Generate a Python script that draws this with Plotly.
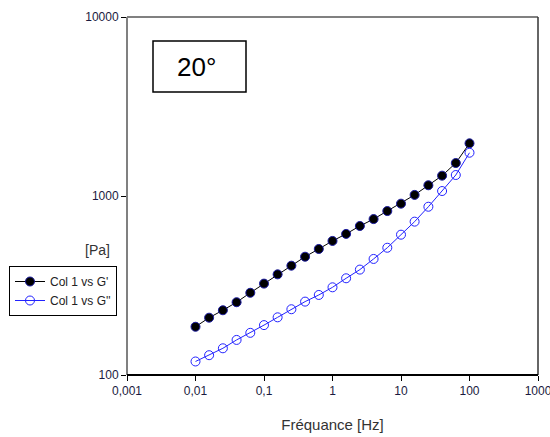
import plotly.graph_objects as go

freq = [0.01, 0.0158, 0.0251, 0.0398, 0.0631, 0.1, 0.158, 0.251, 0.398, 0.631,
        1, 1.58, 2.51, 3.98, 6.31, 10, 15.8, 25.1, 39.8, 63.1, 100]
g_prime = [186, 209, 230, 255, 288, 324, 365, 408, 458, 506,
           561, 614, 680, 743, 824, 906, 1014, 1148, 1299, 1528, 1969]
g_second = [119, 129, 141, 157, 172, 190, 210, 233, 257, 280,
            309, 347, 388, 445, 514, 608, 719, 871, 1066, 1310, 1745]

x_tickvals = [0.001, 0.01, 0.1, 1, 10, 100, 1000]
x_ticktext = ["0,001", "0,01", "0,1", "1", "10", "100", "1000"]
y_tickvals = [100, 1000, 10000]
y_ticktext = ["100", "1000", "10000"]

fig = go.Figure()
fig.add_trace(go.Scatter(
    x=freq, y=g_prime, mode="lines+markers", name="Col 1 vs G'",
    line=dict(color="black", width=1),
    marker=dict(symbol="circle", size=9, color="black", line=dict(color="#1a1aa0", width=1)),
))
fig.add_trace(go.Scatter(
    x=freq, y=g_second, mode="lines+markers", name="Col 1 vs G''",
    line=dict(color="#2222ff", width=1),
    marker=dict(symbol="circle-open", size=9, color="#2222ff", line=dict(width=1)),
))

narrow = "Liberation Sans Narrow, Arial Narrow, Liberation Sans"
tickfont = dict(family=narrow, size=12, color="#1a1a40")

fig.update_layout(
    width=550, height=437,
    margin=dict(l=127, r=12, t=17, b=62, autoexpand=False),
    paper_bgcolor="white", plot_bgcolor="white",
    showlegend=True,
    legend=dict(x=(9-127)/411, y=(375-266)/358, xanchor="left", yanchor="top",
                bordercolor="black", borderwidth=1, bgcolor="white",
                font=dict(family=narrow, size=12, color="#222"),
                tracegroupgap=0, itemwidth=30),
    xaxis=dict(type="log", range=[-3, 3], showgrid=False, zeroline=False, showline=False,
               automargin=False, ticklabeloverflow="allow",
               tickvals=x_tickvals, ticktext=x_ticktext, ticks="outside", ticklen=5,
               tickcolor="black", tickfont=tickfont,
               title=dict(text="Fréquance [Hz]", font=dict(family=narrow, size=15, color="#333"), standoff=22)),
    yaxis=dict(type="log", range=[2, 4], showgrid=False, zeroline=False, showline=False,
               automargin=False, ticklabeloverflow="allow",
               tickvals=y_tickvals, ticktext=y_ticktext, ticks="outside", ticklen=5,
               tickcolor="black", tickfont=tickfont),
    shapes=[
        dict(type="line", xref="paper", yref="paper", x0=0, x1=1, y0=1, y1=1, line=dict(color="#808080", width=2)),
        dict(type="line", xref="paper", yref="paper", x0=0, x1=0, y0=0, y1=1, line=dict(color="#808080", width=2)),
        dict(type="line", xref="paper", yref="paper", x0=1, x1=1, y0=0, y1=1, line=dict(color="#333333", width=1.5)),
        dict(type="line", xref="paper", yref="paper", x0=0, x1=1, y0=0, y1=0, line=dict(color="black", width=2)),
        dict(type="rect", xref="paper", yref="paper", x0=(153-127)/411, x1=(246-127)/411,
             y0=(375-92)/358, y1=(375-41)/358, line=dict(color="black", width=1.5), fillcolor="white"),
    ],
    annotations=[
        dict(text="20°", xref="paper", yref="paper", x=(196-127)/411, y=(375-67)/358,
             xanchor="center", yanchor="middle",
             showarrow=False, font=dict(family="Liberation Sans, Arial", size=26, color="black")),
        dict(text="[Pa]", xref="paper", yref="paper", x=(97-127)/411, y=(375-250)/358,
             showarrow=False, xanchor="center", yanchor="middle",
             font=dict(family=narrow, size=14, color="#333")),
    ],
)

fig.write_html("out.html", config={"displayModeBar": False},
               post_script="document.body.style.margin='0';")
